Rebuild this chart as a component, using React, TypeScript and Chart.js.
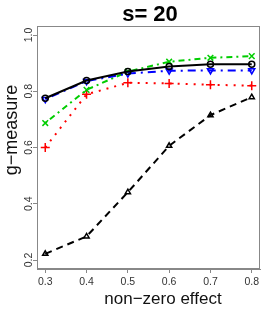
import React, { useEffect, useRef } from "react";
import { Chart, registerables } from "chart.js";

Chart.register(...registerables);

const effects = [0.3, 0.4, 0.5, 0.6, 0.7, 0.8];
const blackSolid = [0.775, 0.838, 0.870, 0.888, 0.896, 0.896];
const blueDashDot = [0.772, 0.836, 0.863, 0.873, 0.874, 0.874];
const greenTwoDash = [0.687, 0.805, 0.870, 0.905, 0.919, 0.925];
const redDotted = [0.600, 0.789, 0.830, 0.828, 0.823, 0.820];
const blackDashed = [0.222, 0.284, 0.441, 0.606, 0.715, 0.779];
const xTicks = [0.3, 0.4, 0.5, 0.6, 0.7, 0.8];
const yTicks = [0.2, 0.4, 0.6, 0.8, 1.0];
const titleText = "s= 20";
const xTitle = "non\u2212zero effect";
const yTitle = "g\u2212measure";

const FONT = "'Liberation Sans', Arial, Helvetica, sans-serif";

const pts = (ys: number[]) => effects.map((x, i) => ({ x, y: ys[i] }));

export default function App() {
  const ref = useRef<HTMLCanvasElement | null>(null);
  useEffect(() => {
    if (!ref.current) return;
    const textPlugin = {
      id: "texts",
      afterDraw(chart: any) {
        const ctx = chart.ctx;
        const a = chart.chartArea;
        ctx.save();
        ctx.strokeStyle = "#888";
        ctx.lineWidth = 1;
        ctx.strokeRect(a.left + 0.5, a.top + 0.5, a.right - a.left - 1, a.bottom - a.top - 1);
        ctx.fillStyle = "#000";
        ctx.textAlign = "center";
        ctx.textBaseline = "alphabetic";
        ctx.font = `bold 22px ${FONT}`;
        ctx.fillText(titleText, 150, 21);
        ctx.font = `17px ${FONT}`;
        ctx.fillStyle = "#111";
        ctx.fillText(xTitle, 163, 304);
        ctx.translate(12, 130);
        ctx.rotate(-Math.PI / 2);
        ctx.font = `18px ${FONT}`;
        ctx.textBaseline = "middle";
        ctx.fillText(yTitle, 0, 0);
        ctx.restore();
      },
    };
    const chart = new Chart(ref.current, {
      type: "line",
      data: {
        datasets: [
          {
            data: pts(blackSolid),
            borderColor: "#000",
            backgroundColor: "rgba(0,0,0,0)",
            borderWidth: 2,
            pointStyle: "circle",
            pointRadius: 3,
            pointBorderWidth: 1.5,
            pointBorderColor: "#000",
          },
          {
            data: pts(blueDashDot),
            borderColor: "#0000ff",
            backgroundColor: "rgba(0,0,0,0)",
            borderWidth: 2,
            borderDash: [2, 5, 8, 5],
            pointStyle: "triangle",
            pointRotation: 180,
            pointRadius: 3.5,
            pointBorderWidth: 1.5,
            pointBorderColor: "#0000ff",
          },
          {
            data: pts(greenTwoDash),
            borderColor: "#00cd00",
            backgroundColor: "rgba(0,0,0,0)",
            borderWidth: 2,
            borderDash: [2, 4, 6, 4],
            pointStyle: "crossRot",
            pointRadius: 4,
            pointBorderWidth: 1.5,
            pointBorderColor: "#00cd00",
          },
          {
            data: pts(redDotted),
            borderColor: "#ff0000",
            backgroundColor: "rgba(0,0,0,0)",
            borderWidth: 2,
            borderDash: [2, 6],
            pointStyle: "cross",
            pointRadius: 4.5,
            pointBorderWidth: 1.5,
            pointBorderColor: "#ff0000",
          },
          {
            data: pts(blackDashed),
            borderColor: "#000",
            backgroundColor: "rgba(0,0,0,0)",
            borderWidth: 2,
            borderDash: [7, 5],
            pointStyle: "triangle",
            pointRadius: 3,
            pointBorderWidth: 1.5,
            pointBorderColor: "#000",
          },
        ],
      },
      options: {
        responsive: false,
        animation: false,
        devicePixelRatio: 1,
        layout: { padding: { top: 26, right: 4, left: 0, bottom: 0 } },
        plugins: { legend: { display: false }, title: { display: false }, tooltip: { enabled: false } },
        elements: { line: { tension: 0, fill: false } },
        scales: {
          x: {
            type: "linear",
            min: 0.28,
            max: 0.82,
            afterBuildTicks: (s: any) => {
              s.ticks = xTicks.map((v) => ({ value: v }));
            },
            afterFit: (s: any) => {
              s.height = 41;
            },
            ticks: {
              callback: (v: any) => Number(v).toFixed(1),
              font: { family: FONT, size: 10.5 },
              color: "#333",
              padding: 3,
              maxRotation: 0,
              minRotation: 0,
            },
            grid: { drawOnChartArea: false, drawTicks: true, tickLength: 4, color: "#888" },
            border: { display: true, color: "#888" },
          },
          y: {
            type: "linear",
            min: 0.168,
            max: 1.032,
            afterBuildTicks: (s: any) => {
              s.ticks = yTicks.map((v) => ({ value: v }));
            },
            afterFit: (s: any) => {
              s.width = 37;
            },
            ticks: {
              callback: (v: any) => Number(v).toFixed(1),
              font: { family: FONT, size: 10.5 },
              color: "#333",
              padding: -3.5,
              minRotation: 90,
              maxRotation: 90,
              crossAlign: "center",
            },
            grid: { drawOnChartArea: false, drawTicks: true, tickLength: 4, color: "#888" },
            border: { display: true, color: "#888" },
          },
        },
      },
      plugins: [textPlugin],
    } as any);
    return () => chart.destroy();
  }, []);
  return (
    <div style={{ position: "absolute", left: 0, top: 0, width: 266, height: 310, background: "#fff" }}>
      <canvas ref={ref} width={266} height={310} style={{ display: "block", width: 266, height: 310 }} />
    </div>
  );
}
